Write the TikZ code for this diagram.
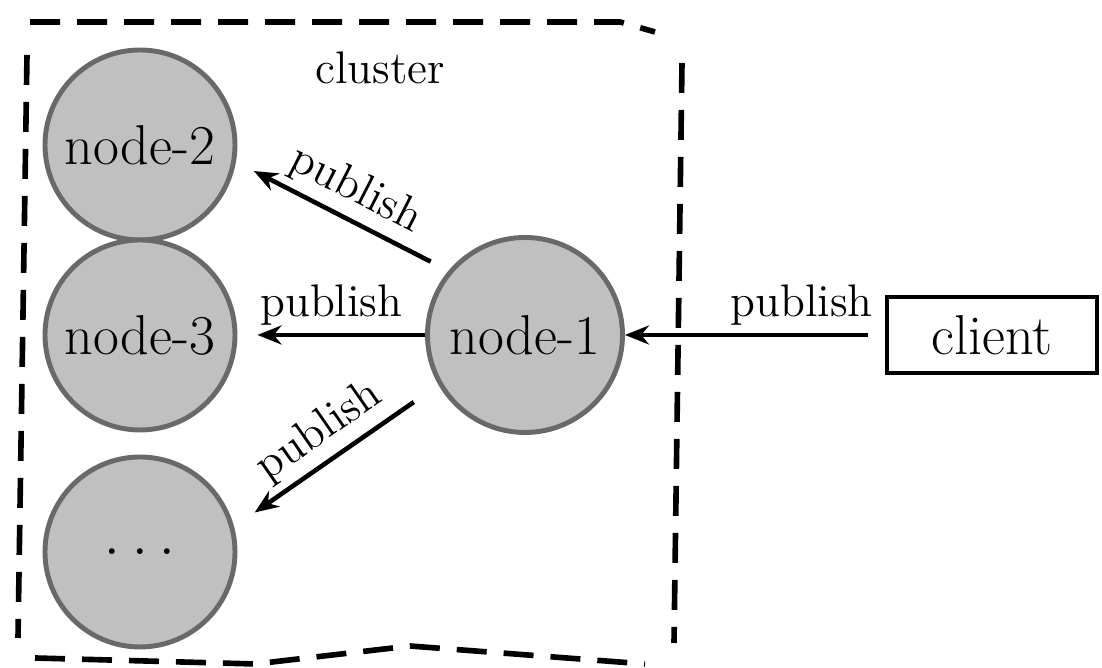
\documentclass[tikz,border=0pt]{standalone}
\usepackage{tikz}
\usetikzlibrary{arrows.meta}
\definecolor{peerfill}{RGB}{192,192,192}
\definecolor{peerline}{RGB}{105,105,105}

\begin{document}
\begin{tikzpicture}[node distance=1.9cm, line width=1.3pt,
  >={Stealth[length=0.24cm, width=0.19cm]},
  peer/.style={circle, draw=peerline, fill=peerfill, line width=1.4pt,
    minimum size=1.9cm, inner sep=0pt, font=\fontsize{16}{19}\selectfont},
  box/.style={rectangle, draw, line width=1.2pt, minimum width=2.1cm,
    minimum height=0.76cm, font=\fontsize{16}{19}\selectfont},
  lbl/.style={font=\fontsize{13}{15}\selectfont, inner sep=2pt},
  fence/.style={line width=1.6pt, dash pattern=on 0.3cm off 0.17cm}]
\useasboundingbox (0,0) rectangle (11.02,6.68);

\node[peer] (N2) at (1.40,5.23) {node-2};
\node[peer] (N3) [below of=N2] {node-3};
\node[peer, font=\fontsize{20}{24}\selectfont] (ND) [below of=N3, node distance=2.17cm] {.\hspace{0.1cm}.\hspace{0.1cm}.};
\node[peer, minimum size=1.95cm] (N1) [right of=N3, node distance=3.85cm] {node-1};
\node[box] (C) [right of=N1, node distance=4.67cm] {client};

% cluster boundary
\node[lbl] (T) at (3.80,6.00) {cluster};
\draw[fence] (0.30,6.46) -- (6.20,6.46) -- (6.55,6.36);
\draw[fence] (6.82,6.05) -- (6.74,0.25);
\draw[fence] (0.27,6.13) -- (0.18,0.30);
\draw[fence] (0.35,0.10) -- (2.55,0.04) -- (4.10,0.22) -- (6.45,0.04);

\path[->] (N1.140) edge[shorten <=0.2cm, shorten >=0.2cm] node[lbl, above, sloped] {publish} (N2.-10)
          (N1) edge[shorten >=0.2cm] node[lbl, above] {publish} (N3)
          (N1.210) edge[shorten <=0.3cm, shorten >=0.25cm] node[lbl, above, sloped] {publish} (ND.15)
          (C) edge[shorten <=0.17cm] node[lbl, above, pos=0.32] {publish} (N1);
\end{tikzpicture}
\end{document}
